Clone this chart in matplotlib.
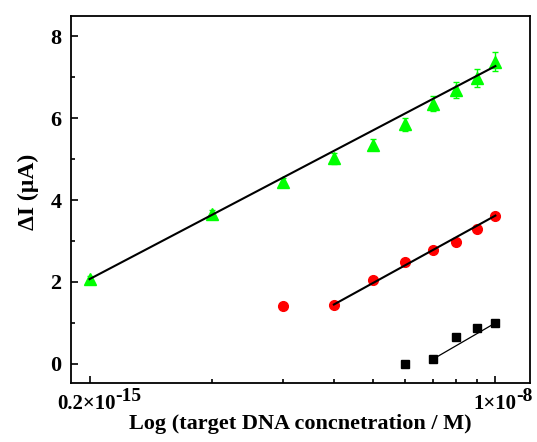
import numpy as np
import matplotlib
matplotlib.use("Agg")
import matplotlib.pyplot as plt
from matplotlib.ticker import FixedLocator, NullFormatter, MultipleLocator

plt.rcParams['font.family'] = ['Liberation Serif', 'DejaVu Serif']
plt.rcParams['font.weight'] = 'bold'

# concentration index (log axis, one decade)
conc = [1, 2, 3, 4, 5, 6, 7, 8, 9, 10]

green_y = [2.08, 3.67, 4.45, 5.02, 5.35, 5.85, 6.35, 6.68, 6.98, 7.38]
green_err = [0.06, 0.08, 0.10, 0.13, 0.14, 0.155, 0.18, 0.20, 0.23, 0.24]
green_fit_x = [1, 10]
green_fit_y = [2.07, 7.27]

red_x = [3, 4, 5, 6, 7, 8, 9, 10]
red_y = [1.42, 1.45, 2.04, 2.48, 2.78, 2.98, 3.29, 3.61]
red_fit_x = [4, 10]
red_fit_y = [1.45, 3.62]

black_x = [6, 7, 8, 9, 10]
black_y = [0.0, 0.11, 0.65, 0.88, 1.0]
black_fit_x = [7, 10]
black_fit_y = [0.11, 1.0]

# tick labels at both ends: (position, base, exponent)
xlabels = [(1, '0.2×10', '-15'), (10, '1×10', '-8')]

fig = plt.figure(figsize=(5.37, 4.42), dpi=100)
ax = fig.add_axes([0.1322, 0.134, 0.855, 0.8305])

ax.errorbar(conc, green_y, yerr=green_err, fmt='^', color='#00ff00', ms=8.5,
            ecolor='#00ff00', elinewidth=1, capsize=2.5, capthick=1, zorder=3)
ax.plot(green_fit_x, green_fit_y, color='black', lw=1.5, zorder=4)

ax.plot(red_x, red_y, 'o', color='#ff0000', ms=7, zorder=3)
ax.plot(red_fit_x, red_fit_y, color='black', lw=1.5, zorder=4)

ax.plot(black_x, black_y, 's', color='black', ms=6, zorder=3)
ax.plot(black_fit_x, black_fit_y, color='black', lw=0.9, zorder=4)

ax.set_xscale('log')
ax.set_xlim(0.90, 12.18)
ax.xaxis.set_major_locator(FixedLocator([1, 10]))
ax.xaxis.set_major_formatter(NullFormatter())
ax.xaxis.set_minor_locator(FixedLocator([2, 3, 4, 5, 6, 7, 8, 9]))
ax.xaxis.set_minor_formatter(NullFormatter())

ax.set_ylim(-0.46, 8.5)
ax.yaxis.set_major_locator(MultipleLocator(2))
ax.yaxis.set_minor_locator(MultipleLocator(1))

ax.tick_params(which='both', direction='in', width=1.2, labelsize=16)
ax.tick_params(which='major', length=5)
ax.tick_params(which='minor', length=2.8)
ax.tick_params(axis='y', pad=7)
for s in ax.spines.values():
    s.set_linewidth(1.3)

# x tick labels with a large superscript
shifts = {1: 26, 10: 21}
for xv, base, ex in xlabels:
    t = ax.annotate(base, xy=(xv, 0), xycoords=('data', 'axes fraction'),
                    xytext=(shifts[xv], -11), textcoords='offset pixels',
                    ha='right', va='top', fontsize=15, fontweight='bold')
    ax.annotate(ex, xy=(1, 0), xycoords=t, xytext=(0, 12.5),
                textcoords='offset pixels', ha='left', va='baseline',
                fontsize=14, fontweight='bold')

ax.set_xlabel('Log (target DNA concnetration / M)', fontsize=16, fontweight='bold', labelpad=19)
ax.set_ylabel('ΔI (µA)', fontsize=17, fontweight='bold', labelpad=8)
ax.yaxis.label.set_y(0.52)

fig.savefig('out.png', dpi=100)
